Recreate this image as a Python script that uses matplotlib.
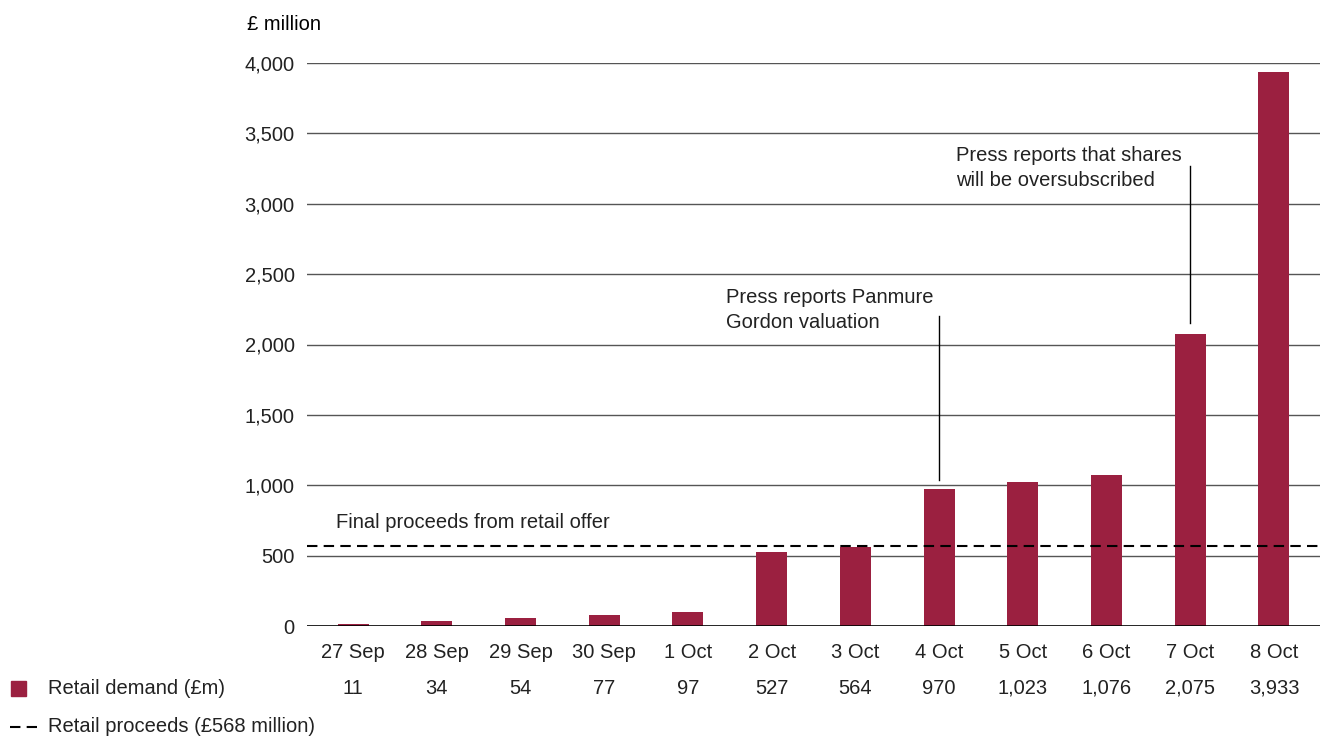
import numpy as np
import matplotlib
matplotlib.use("Agg")
import matplotlib.pyplot as plt
from matplotlib.patches import Rectangle
from matplotlib.lines import Line2D

# data
dates = ["27 Sep", "28 Sep", "29 Sep", "30 Sep", "1 Oct", "2 Oct",
         "3 Oct", "4 Oct", "5 Oct", "6 Oct", "7 Oct", "8 Oct"]
demand = [11, 34, 54, 77, 97, 527, 564, 970, 1023, 1076, 2075, 3933]
proceeds = 568
yticks = [0, 500, 1000, 1500, 2000, 2500, 3000, 3500, 4000]

bar_col = "#9b2040"
txt_col = "#222222"
plt.rcParams['font.family'] = ['Liberation Sans', 'DejaVu Sans']
fs = 14.5

fig = plt.figure(figsize=(13.2, 7.37), dpi=100)
ax = fig.add_axes([307/1320, 1 - 626/737, 1 - 307/1320, (626 - 63)/737])

x = np.arange(len(dates))
ax.bar(x, demand, width=0.37, color=bar_col, zorder=3)
ax.set_xlim(-0.55, len(dates) - 0.45)
ax.set_ylim(0, 4000)

# gridlines
for v in yticks[1:]:
    ax.axhline(v, color="#555555", lw=1.0, zorder=1)
ax.axhline(0, color="black", lw=1.2, zorder=4)
ax.axhline(proceeds, color="black", lw=1.5, ls=(0, (5, 3)), zorder=4)

for s in ax.spines.values():
    s.set_visible(False)
ax.set_yticks(yticks)
ax.set_yticklabels([f"{v:,}" for v in yticks], fontsize=fs, color=txt_col)
ax.tick_params(axis="y", length=0, pad=9)
ax.set_xticks(x)
ax.set_xticklabels(dates, fontsize=fs, color=txt_col)
ax.tick_params(axis="x", length=0, pad=12)

# values row
for i, v in enumerate(demand):
    ax.annotate(f"{v:,}", (i, 0), xycoords="data", xytext=(0, -45),
                textcoords="offset points", ha="center", va="center",
                fontsize=fs, color=txt_col)

# annotations
ax.text(-0.2, proceeds + 100, "Final proceeds from retail offer", fontsize=fs,
        color=txt_col, va="bottom", ha="left")
ax.text(4.45, 2090, "Press reports Panmure\nGordon valuation", fontsize=fs,
        color=txt_col, va="bottom", ha="left", linespacing=1.4)
ax.plot([7, 7], [1040, 2200], color="black", lw=1.0, zorder=5)
ax.text(7.2, 3100, "Press reports that shares\nwill be oversubscribed", fontsize=fs,
        color=txt_col, va="bottom", ha="left", linespacing=1.4)
ax.plot([10, 10], [2150, 3270], color="black", lw=1.0, zorder=5)

fig.text(247/1320, 1 - 25/737, "£ million", fontsize=fs, color="black",
         va="center", ha="left")

# legend
fig.patches.append(Rectangle((11/1320, 1 - 696/737), 15/1320, 15/737,
                             transform=fig.transFigure, color=bar_col))
fig.text(48/1320, 1 - 688/737, "Retail demand (£m)", fontsize=fs, color=txt_col,
         va="center", ha="left")
fig.lines.append(Line2D([10/1320, 37/1320], [1 - 727/737, 1 - 727/737],
                        transform=fig.transFigure, color="black", lw=1.5,
                        ls=(0, (5, 3))))
fig.text(48/1320, 1 - 727/737, "Retail proceeds (£568 million)", fontsize=fs,
         color=txt_col, va="center", ha="left")

fig.savefig("out.png", dpi=100)
